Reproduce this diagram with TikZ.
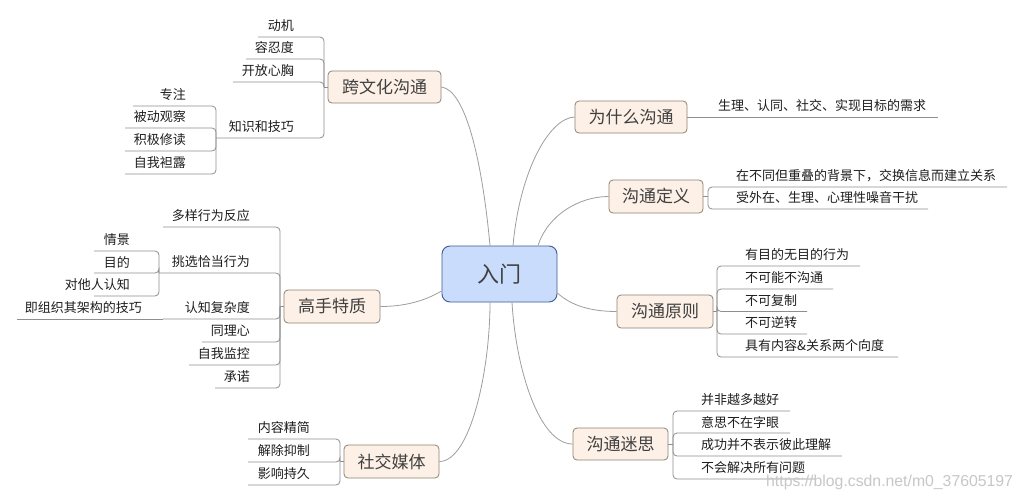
\documentclass[tikz,border=0pt]{standalone}
\usepackage{fontspec}
\newfontfamily\cjk{Noto Sans CJK SC}
\newfontfamily\wmfont{Liberation Sans}
\definecolor{linegray}{HTML}{8E8E8E}
\definecolor{curvegray}{HTML}{9E9E9E}
\definecolor{topicfill}{HTML}{FDF1E7}
\definecolor{topicdraw}{HTML}{8E8273}
\definecolor{centerfill}{HTML}{C9DCFB}
\definecolor{centerdraw}{HTML}{3C5A96}
\definecolor{textdark}{HTML}{1E1E1E}
\tikzset{
  topic/.style={draw=topicdraw, fill=topicfill, line width=0.8pt, rounded corners=4pt,
    inner sep=0pt, text=textdark!85, font=\cjk\fontsize{17}{19}\selectfont},
  centerbox/.style={draw=centerdraw, fill=centerfill, line width=0.9pt, rounded corners=8pt,
    inner sep=0pt, minimum width=115pt, minimum height=56pt, text=textdark!85,
    font=\cjk\fontsize{22}{24}\selectfont},
  leafL/.style={anchor=east, inner sep=0pt, text=textdark, font=\cjk\fontsize{13}{15}\selectfont},
  leafR/.style={anchor=west, inner sep=0pt, text=textdark, font=\cjk\fontsize{13}{15}\selectfont},
  br/.style={draw=linegray, line width=0.8pt, rounded corners=4pt},
  curve/.style={draw=curvegray, line width=0.8pt},
}
\begin{document}
\begin{tikzpicture}[x=1pt, y=-1pt]
\useasboundingbox[fill=white] (0,0) rectangle (1023,501);

% ---------- main topics ----------
\node[centerbox] (c) at (499.5,274) {入门};
\node[topic, minimum width=113pt, minimum height=32pt] (kwh) at (384.5,87) {跨文化沟通};
\node[topic, minimum width=112pt, minimum height=32pt] (wsm) at (631,117) {为什么沟通};
\node[topic, minimum width=94pt, minimum height=33pt] (dy) at (656,196.5) {沟通定义};
\node[topic, minimum width=96pt, minimum height=33pt] (yz) at (665,311.5) {沟通原则};
\node[topic, minimum width=95pt, minimum height=32pt] (ms) at (620.5,444) {沟通迷思};
\node[topic, minimum width=96pt, minimum height=33pt] (gs) at (332,306.5) {高手特质};
\node[topic, minimum width=95pt, minimum height=33pt] (sj) at (391.5,461.5) {社交媒体};

% ---------- curves from the centre ----------
\draw[curve] (kwh.east) .. controls +(24,3) and +(-8,-86) .. ([xshift=-9.5pt]c.north);
\draw[curve] (wsm.west) .. controls +(-25,1) and +(7,-76) .. ([xshift=13.5pt]c.north);
\draw[curve] (dy.west) .. controls +(-29,0) and +(10,-31) .. ([xshift=38.5pt]c.north);
\draw[curve] ([yshift=-19pt]c.east) .. controls +(13,12) and +(-27,0) .. (yz.west);
\draw[curve] ([xshift=-9.5pt]c.south) .. controls +(0,68) and +(31,0) .. (sj.east);
\draw[curve] ([xshift=12.5pt]c.south) .. controls +(4,68) and +(-33,0) .. (ms.west);
\draw[curve] (gs.east) .. controls +(30,0) and +(-12,7) .. ([yshift=-17pt]c.west);

% ---------- 跨文化沟通 ----------
\coordinate (j1) at (324,87);
\draw[br] (kwh.west) -- (j1);
\coordinate (u11) at (258,37);
\coordinate (u12) at (246,59);
\coordinate (u13) at (233,82);
\coordinate (j2) at (216,138);
\draw[br] (j1) |- (u11);
\draw[br] (j1) |- (u12);
\draw[br] (j1) |- (u13);
\draw[br] (j1) |- (j2);
\node[leafL] (t11) at (294,26) {动机};
\node[leafL] (t12) at (294,48) {容忍度};
\node[leafL] (t13) at (294,71) {开放心胸};
\node[leafL] (t14) at (294,127) {知识和技巧};

\coordinate (u21) at (133,106);
\coordinate (u22) at (125,128);
\coordinate (u23) at (125,151);
\coordinate (u24) at (125,174);
\draw[br] (j2) |- (u21);
\draw[br] (j2) |- (u22);
\draw[br] (j2) |- (u23);
\draw[br] (j2) |- (u24);
\node[leafL] (t21) at (186,95) {专注};
\node[leafL] (t22) at (186,117) {被动观察};
\node[leafL] (t23) at (186,140) {积极修读};
\node[leafL] (t24) at (186,163) {自我袒露};

% ---------- 高手特质 ----------
\coordinate (j3) at (280,306.5);
\draw[br] (gs.west) -- (j3);
\coordinate (u31) at (163,227);
\coordinate (j4) at (159,273);
\coordinate (j5) at (163,319);
\coordinate (u34) at (202,342);
\coordinate (u35) at (189,365);
\coordinate (u36) at (215,388);
\draw[br] (j3) |- (u31);
\draw[br] (j3) |- (j4);
\draw[br] (j3) |- (j5);
\draw[br] (j3) |- (u34);
\draw[br] (j3) |- (u35);
\draw[br] (j3) |- (u36);
\node[leafL] (t31) at (250,216) {多样行为反应};
\node[leafL] (t32) at (250,262) {挑选恰当行为};
\node[leafL] (t33) at (250,308) {认知复杂度};
\node[leafL] (t34) at (250,331) {同理心};
\node[leafL] (t35) at (250,354) {自我监控};
\node[leafL] (t36) at (250,377) {承诺};

\coordinate (u41) at (94,251);
\coordinate (u42) at (94,273);
\coordinate (u43) at (94,296);
\draw[br] (j4) |- (u41);
\draw[br] (j4) |- (u42);
\draw[br] (j4) |- (u43);
\node[leafL] (t41) at (130,240) {情景};
\node[leafL] (t42) at (130,262) {目的};
\node[leafL] (t43) at (130,285) {对他人认知};

\coordinate (u51) at (17,319);
\draw[br] (j5) -- (u51);
\node[leafL] (t51) at (142,308) {即组织其架构的技巧};

% ---------- 社交媒体 ----------
\coordinate (j6) at (340,461.5);
\draw[br] (sj.west) -- (j6);
\coordinate (u61) at (248,439);
\coordinate (u62) at (248,462);
\coordinate (u63) at (248,485);
\draw[br] (j6) |- (u61);
\draw[br] (j6) |- (u62);
\draw[br] (j6) |- (u63);
\node[leafL] (t61) at (310,428) {内容精简};
\node[leafL] (t62) at (310,451) {解除抑制};
\node[leafL] (t63) at (310,474) {影响持久};

% ---------- 为什么沟通 ----------
\coordinate (u71) at (938,117);
\draw[br] (wsm.east) -- (u71);
\node[leafR] (t71) at (718,106) {生理、认同、社交、实现目标的需求};

% ---------- 沟通定义 ----------
\coordinate (j8) at (708,196.5);
\draw[br] (dy.east) -- (j8);
\coordinate (u81) at (1007,187);
\coordinate (u82) at (928,209);
\draw[br] (j8) |- (u81);
\draw[br] (j8) |- (u82);
\node[leafR] (t81) at (736,176) {在不同但重叠的背景下，交换信息而建立关系};
\node[leafR] (t82) at (736,198) {受外在、生理、心理性噪音干扰};

% ---------- 沟通原则 ----------
\coordinate (j9) at (717,311.5);
\draw[br] (yz.east) -- (j9);
\coordinate (u91) at (860,266);
\coordinate (u92) at (833,289);
\coordinate (u93) at (807,311.5);
\coordinate (u94) at (807,334);
\coordinate (u95) at (898,357);
\draw[br] (j9) |- (u91);
\draw[br] (j9) |- (u92);
\draw[br] (j9) |- (u93);
\draw[br] (j9) |- (u94);
\draw[br] (j9) |- (u95);
\node[leafR] (t91) at (745,255) {有目的无目的行为};
\node[leafR] (t92) at (745,278) {不可能不沟通};
\node[leafR] (t93) at (745,301) {不可复制};
\node[leafR] (t94) at (745,323) {不可逆转};
\node[leafR] (t95) at (745,346) {具有内容\&关系两个向度};

% ---------- 沟通迷思 ----------
\coordinate (j10) at (673,444);
\draw[br] (ms.east) -- (j10);
\coordinate (u101) at (790,411);
\coordinate (u102) at (790,433);
\coordinate (u103) at (842,456);
\coordinate (u104) at (815,479);
\draw[br] (j10) |- (u101);
\draw[br] (j10) |- (u102);
\draw[br] (j10) |- (u103);
\draw[br] (j10) |- (u104);
\node[leafR] (t101) at (701,400) {并非越多越好};
\node[leafR] (t102) at (701,422) {意思不在字眼};
\node[leafR] (t103) at (701,445) {成功并不表示彼此理解};
\node[leafR] (t104) at (701,468) {不会解决所有问题};

% ---------- watermark ----------
\node[anchor=west, inner sep=0pt, text=black!22, font=\wmfont\fontsize{15.8}{17}\selectfont] (wm) at (766,482) {https://blog.csdn.net/m0\_37605197};
\end{tikzpicture}
\end{document}
